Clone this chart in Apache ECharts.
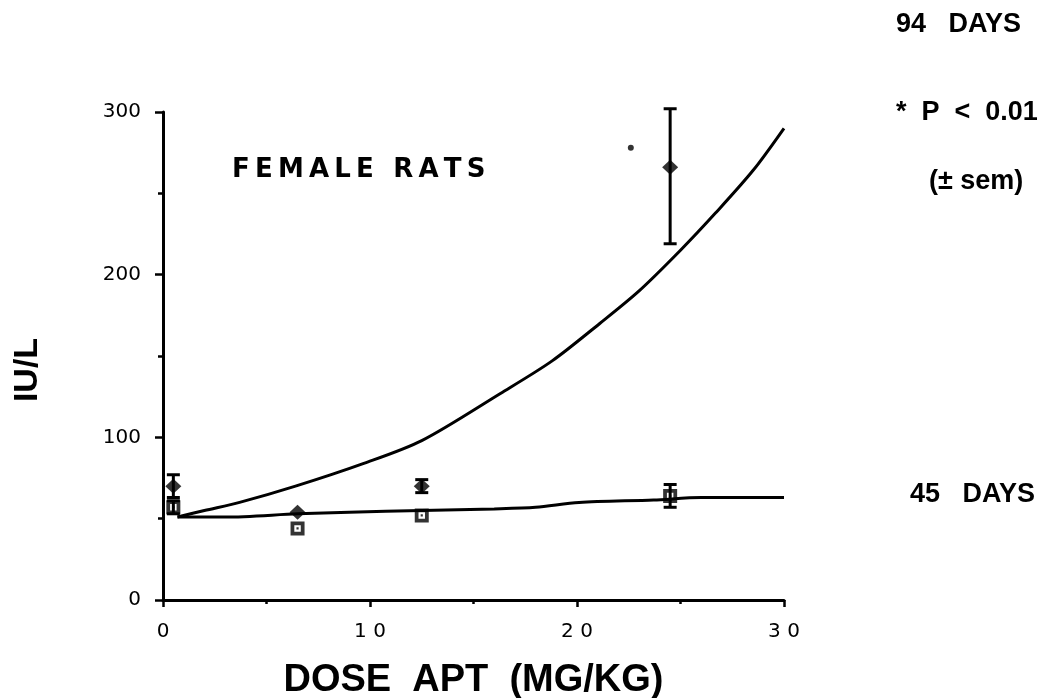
<!DOCTYPE html>
<html>
<head>
<meta charset="utf-8">
<script src="https://cdn.jsdelivr.net/npm/echarts@6/dist/echarts.min.js"></script>
<style>
html,body{margin:0;padding:0;background:#fff;}
#chart{width:1044px;height:698px;}
</style>
</head>
<body>
<div id="chart"></div>
<script>
// ---- data ----
const doses = [0.5, 6.5, 12.5, 24.5];
const mean94 = [70, 54, 70, 266];
const low94 = [63, 54, 66, 219];
const high94 = [77, 54, 74, 302];
const mean45 = [57, 44, 52, 64];
const low45 = [53, 44, 52, 57];
const high45 = [61, 44, 52, 71];

const fit94X = [0.7, 2, 3.7, 6.4, 9.7, 12.5, 16.3, 18.8, 21.1, 23.0, 25.0, 26.7, 28.5, 30];
const fit94Y = [51, 55, 60, 70, 84, 98, 127, 147, 170, 190, 215, 238, 264, 290];
const fit45X = [0.7, 3, 6.5, 9, 12.5, 16, 18, 20.1, 23.7, 26, 30];
const fit45Y = [51, 51, 53, 54, 55, 56, 57, 60, 61.5, 63, 63];

const sigPoint = [22.6, 278];

const xTicks = [0, 10, 20, 30];
const yTicks = [0, 100, 200, 300];

// ---- build ----
const zip = (a, b) => a.map((v, i) => [v, b[i]]);
const errData = (lo, hi) => doses.map((d, i) => [d, lo[i], hi[i]]).filter(r => r[2] > r[1]);

const squareSym = 'path://M0,0H13V13H0Z M3.5,3.5V9.5H9.5V3.5Z M5.5,5.5H7.5V7.5H5.5Z';

function errRender(params, api) {
  const x = api.value(0), lo = api.value(1), hi = api.value(2);
  const p1 = api.coord([x, hi]);
  const p2 = api.coord([x, lo]);
  const w = 6.5;
  const st = {stroke: '#000', lineWidth: 3};
  return {type: 'group', children: [
    {type: 'line', shape: {x1: p1[0], y1: p1[1], x2: p2[0], y2: p2[1]}, style: st},
    {type: 'line', shape: {x1: p1[0] - w, y1: p1[1], x2: p1[0] + w, y2: p1[1]}, style: st},
    {type: 'line', shape: {x1: p2[0] - w, y1: p2[1], x2: p2[0] + w, y2: p2[1]}, style: st}
  ]};
}

const chart = echarts.init(document.getElementById('chart'), null, {renderer: 'canvas'});
const thin = '\u2009';
chart.setOption({
  backgroundColor: '#fff',
  animation: false,
  grid: {left: 163, right: 260, top: 112, bottom: 98, containLabel: false, outerBoundsMode: 'none'},
  xAxis: {
    type: 'value', min: xTicks[0], max: xTicks[xTicks.length - 1], interval: 10,
    name: 'DOSE  APT  (MG/KG)', nameLocation: 'middle', nameGap: 62,
    nameTextStyle: {fontFamily: 'Liberation Sans', fontWeight: 'bold', fontSize: 38, color: '#000'},
    axisLine: {show: true, onZero: false, lineStyle: {color: '#000', width: 3}},
    axisTick: {show: true, length: 7, lineStyle: {color: '#000', width: 2.5}},
    minorTick: {show: true, splitNumber: 2, length: 4, lineStyle: {color: '#000', width: 2.5}},
    splitLine: {show: false},
    axisLabel: {color: '#000', fontFamily: 'DejaVu Sans', fontSize: 20, margin: 22,
      formatter: v => String(v).split('').join(' ')}
  },
  yAxis: {
    type: 'value', min: yTicks[0], max: yTicks[yTicks.length - 1], interval: 100,
    axisLine: {show: true, onZero: false, lineStyle: {color: '#000', width: 3}},
    axisTick: {show: true, length: 8, lineStyle: {color: '#000', width: 2.5}},
    minorTick: {show: true, splitNumber: 2, length: 5, lineStyle: {color: '#000', width: 2.5}},
    splitLine: {show: false},
    axisLabel: {color: '#000', fontFamily: 'DejaVu Sans', fontSize: 20, margin: 22}
  },
  graphic: [
    {type: 'text', x: 28, y: 370, rotation: Math.PI / 2,
      style: {text: 'IU/L', fontFamily: 'Liberation Sans', fontWeight: 'bold', fontSize: 34, fill: '#000', align: 'center', verticalAlign: 'middle'}},
    {type: 'text', x: 232, y: 170,
      style: {text: 'FEMALE RATS'.split('').join(thin), fontFamily: 'DejaVu Sans', fontWeight: 'bold', fontSize: 26, fill: '#000', align: 'left', verticalAlign: 'middle'}},
    {type: 'text', x: 896, y: 25,
      style: {text: '94   DAYS', fontFamily: 'Liberation Sans', fontWeight: 'bold', fontSize: 27, fill: '#000', align: 'left', verticalAlign: 'middle'}},
    {type: 'text', x: 896, y: 113,
      style: {text: '*  P  <  0.01', fontFamily: 'Liberation Sans', fontWeight: 'bold', fontSize: 27, fill: '#000', align: 'left', verticalAlign: 'middle'}},
    {type: 'text', x: 929, y: 182,
      style: {text: '(\u00B1 sem)', fontFamily: 'Liberation Sans', fontWeight: 'bold', fontSize: 27, fill: '#000', align: 'left', verticalAlign: 'middle'}},
    {type: 'text', x: 910, y: 495,
      style: {text: '45   DAYS', fontFamily: 'Liberation Sans', fontWeight: 'bold', fontSize: 27, fill: '#000', align: 'left', verticalAlign: 'middle'}}
  ],
  series: [
    {type: 'custom', name: 'err94', renderItem: errRender, data: errData(low94, high94), z: 2},
    {type: 'line', name: 'fit94', data: zip(fit94X, fit94Y), smooth: 0.3, showSymbol: false,
      lineStyle: {color: '#000', width: 3}, z: 3},
    {type: 'line', name: 'fit45', data: zip(fit45X, fit45Y), smooth: 0.3, showSymbol: false,
      lineStyle: {color: '#000', width: 3}, z: 3},
    {type: 'scatter', name: '94 days', data: zip(doses, mean94), symbol: 'diamond', symbolSize: [16, 15],
      itemStyle: {color: '#000'}, z: 4},
    {type: 'custom', name: 'err45', renderItem: errRender, data: errData(low45, high45), z: 5},
    {type: 'scatter', name: '45 days', data: zip(doses, mean45), symbol: squareSym, symbolSize: 14,
      itemStyle: {color: '#000'}, z: 6},
    {type: 'scatter', name: 'sig', data: [sigPoint], symbol: 'circle', symbolSize: 6,
      itemStyle: {color: '#000'}, z: 6}
  ]
});
</script>
</body>
</html>
